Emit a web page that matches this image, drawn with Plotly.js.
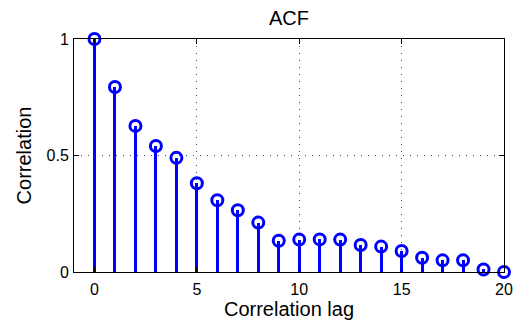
<!DOCTYPE html>
<html><head><meta charset="utf-8">
<script src="https://cdn.plot.ly/plotly-3.0.1.min.js"></script>
<style>html,body{margin:0;padding:0;background:#fff}#chart{width:521px;height:322px}</style>
</head><body><div id="chart"></div>
<script>
var lags = [0,1,2,3,4,5,6,7,8,9,10,11,12,13,14,15,16,17,18,19,20];
var acf = [1.0,0.794,0.627,0.541,0.490,0.381,0.308,0.265,0.212,0.134,0.139,0.140,0.139,0.116,0.109,0.090,0.061,0.050,0.050,0.011,0.0];
var xTicks = [0,5,10,15,20];
var yTicks = [0,0.5,1];
var yTickLabels = ['0','0.5','1'];

var blue = '#0000ff';
var font = '"Liberation Sans", Arial, sans-serif';

var stems = {
  type: 'bar', x: lags, y: acf, width: 0.15,
  marker: {color: blue, line: {width: 0}},
  hoverinfo: 'skip', showlegend: false
};
var heads = {
  type: 'scatter', mode: 'markers', x: lags, y: acf,
  marker: {symbol: 'circle-open', size: 11, color: blue, line: {width: 3, color: blue}},
  cliponaxis: false, showlegend: false
};

var layout = {
  width: 521, height: 322,
  margin: {l: 74, r: 17, t: 39, b: 50, pad: 0},
  paper_bgcolor: '#fff', plot_bgcolor: '#fff',
  font: {family: font, size: 16, color: '#000'},
  title: {text: 'ACF', font: {family: font, size: 20, color: '#000'}, x: 0.5, xref: 'paper', xanchor: 'center', y: 0.945, yref: 'container', yanchor: 'middle'},
  xaxis: {
    range: [-1, 20], tickvals: xTicks, ticktext: xTicks.map(String),
    ticks: 'inside', ticklen: 5, tickwidth: 1, tickcolor: '#000',
    showline: true, linecolor: '#000', linewidth: 1, mirror: 'ticks',
    showgrid: true, gridcolor: '#444', gridwidth: 1, griddash: '1px,6px',
    zeroline: false, tickfont: {size: 16}, ticklabelstandoff: 3,
    title: {text: 'Correlation lag', font: {size: 20}, standoff: 3}
  },
  yaxis: {
    range: [0, 1], tickvals: yTicks, ticktext: yTickLabels,
    ticks: 'inside', ticklen: 5, tickwidth: 1, tickcolor: '#000',
    showline: true, linecolor: '#000', linewidth: 1, mirror: 'ticks',
    showgrid: true, gridcolor: '#444', gridwidth: 1, griddash: '1px,6px',
    zeroline: false, tickfont: {size: 16}, ticklabelstandoff: 1,
    title: {text: 'Correlation', font: {size: 20}, standoff: 9}
  },
  bargap: 0
};
Plotly.newPlot('chart', [stems, heads], layout, {displayModeBar: false, staticPlot: true});
</script></body></html>
